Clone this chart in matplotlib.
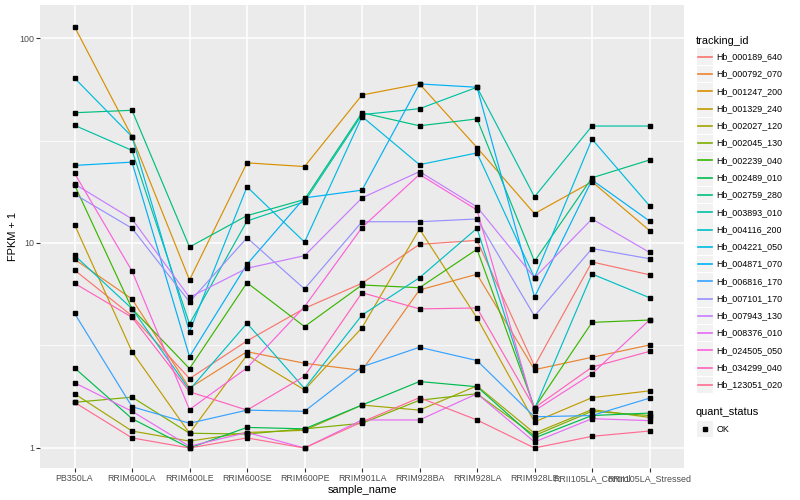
import matplotlib
matplotlib.use('Agg')
import matplotlib.pyplot as plt
from matplotlib.patches import Rectangle
from matplotlib.lines import Line2D

plt.rcParams['font.family'] = ['Liberation Sans', 'DejaVu Sans']

samples = ['PB350LA', 'RRIM600LA', 'RRIM600LE', 'RRIM600SE', 'RRIM600PE',
           'RRIM901LA', 'RRIM928BA', 'RRIM928LA', 'RRIM928LE',
           'RRII105LA_Control', 'RRII105LA_Stressed']

tracking_ids = ['Hb_000189_640', 'Hb_000792_070', 'Hb_001247_200', 'Hb_001329_240',
                'Hb_002027_120', 'Hb_002045_130', 'Hb_002239_040', 'Hb_002489_010',
                'Hb_002759_280', 'Hb_003893_010', 'Hb_004116_200', 'Hb_004221_050',
                'Hb_004871_070', 'Hb_006816_170', 'Hb_007101_170', 'Hb_007943_130',
                'Hb_008376_010', 'Hb_024505_050', 'Hb_034299_040', 'Hb_123051_020']

colors = ['#F8766D', '#EA8331', '#D89000', '#C09B00', '#A3A500', '#7CAE00',
          '#39B600', '#00BB4E', '#00BF7D', '#00C1A3', '#00BFC4', '#00BAE0',
          '#00B0F6', '#35A2FF', '#9590FF', '#C77CFF', '#E76BF3', '#FA62DB',
          '#FF62BC', '#FF6C91']

# FPKM + 1 values per sample (order of `samples`)
hb_000189_640 = [7.38, 4.41, 2.18, 3.33, 4.80, 6.36, 9.85, 10.3, 2.51, 8.08, 7.0]
hb_000792_070 = [8.33, 5.33, 1.96, 2.95, 2.59, 2.39, 5.9, 7.04, 2.41, 2.77, 3.18]
hb_001247_200 = [113.6, 33.0, 6.6, 24.6, 23.6, 52.7, 59.7, 29.2, 13.9, 19.9, 11.5]
hb_001329_240 = [12.3, 2.95, 1.18, 2.84, 1.92, 3.86, 11.7, 4.31, 1.34, 1.76, 1.90]
hb_002027_120 = [1.84, 1.21, 1.08, 1.19, 1.22, 1.62, 1.53, 2.01, 1.18, 1.54, 1.41]
hb_002045_130 = [1.67, 1.77, 1.18, 1.17, 1.24, 1.32, 1.71, 1.84, 1.15, 1.51, 1.44]
hb_002239_040 = [19.2, 4.78, 2.44, 6.40, 3.91, 6.24, 6.05, 9.32, 1.57, 4.10, 4.21]
hb_002489_010 = [2.46, 1.39, 1.0, 1.26, 1.24, 1.62, 2.11, 1.99, 1.12, 1.44, 1.48]
hb_002759_280 = [43.2, 44.4, 9.56, 13.6, 16.3, 43.2, 37.3, 40.3, 8.14, 20.8, 25.4]
hb_003893_010 = [37.5, 28.3, 4.03, 12.8, 15.9, 42.3, 45.2, 57.5, 16.8, 37.2, 37.2]
hb_004116_200 = [8.71, 4.78, 1.92, 4.06, 1.95, 4.45, 6.77, 11.8, 1.55, 7.06, 5.41]
hb_004221_050 = [63.8, 33.0, 3.69, 18.8, 10.1, 41.4, 24.1, 27.5, 6.77, 32.1, 15.2]
hb_004871_070 = [23.9, 24.8, 2.79, 7.87, 16.6, 18.1, 59.7, 57.5, 5.45, 20.3, 12.8]
hb_006816_170 = [4.54, 1.59, 1.32, 1.53, 1.51, 2.49, 3.10, 2.67, 1.42, 1.44, 1.75]
hb_007101_170 = [17.3, 11.8, 5.16, 10.6, 5.97, 12.7, 12.7, 13.1, 4.40, 9.4, 8.38]
hb_007943_130 = [19.4, 13.1, 5.43, 7.53, 8.67, 16.6, 22.3, 15.0, 6.77, 13.1, 9.0]
hb_008376_010 = [2.08, 1.51, 1.02, 1.19, 1.0, 1.37, 1.37, 1.84, 1.07, 1.39, 1.36]
hb_024505_050 = [21.9, 7.3, 1.54, 2.46, 4.89, 11.9, 21.6, 14.5, 1.52, 2.30, 4.21]
hb_034299_040 = [6.36, 4.34, 1.88, 1.53, 2.24, 5.72, 4.77, 4.82, 1.57, 2.48, 2.96]
hb_123051_020 = [1.67, 1.12, 1.0, 1.12, 1.0, 1.34, 1.76, 1.37, 1.0, 1.14, 1.21]

series = [hb_000189_640, hb_000792_070, hb_001247_200, hb_001329_240,
          hb_002027_120, hb_002045_130, hb_002239_040, hb_002489_010,
          hb_002759_280, hb_003893_010, hb_004116_200, hb_004221_050,
          hb_004871_070, hb_006816_170, hb_007101_170, hb_007943_130,
          hb_008376_010, hb_024505_050, hb_034299_040, hb_123051_020]

W, H = 800, 500
fig = plt.figure(figsize=(W / 100, H / 100), dpi=100)
fig.patch.set_facecolor('white')

# panel in pixels: x 40..684, y 5..468
ax = fig.add_axes([40 / W, 1 - 468 / H, 644 / W, 463 / H])
ax.set_facecolor('#EBEBEB')
for s in ax.spines.values():
    s.set_visible(False)

x = list(range(len(samples)))
for vals, col in zip(series, colors):
    ax.plot(x, vals, color=col, lw=0.85, zorder=3, solid_capstyle='butt')
for vals in series:
    ax.plot(x, vals, linestyle='none', marker='s', markersize=2.8,
            color='black', zorder=4)

ax.set_yscale('log')
ax.set_ylim(10 ** -0.0976, 10 ** 2.161)
ax.set_xlim(-0.6, len(samples) - 0.4)
ax.set_yticks([1, 10, 100])
ax.set_yticklabels(['1', '10', '100'])
ax.set_yticks([10 ** 0.5, 10 ** 1.5], minor=True)
ax.yaxis.set_minor_formatter(matplotlib.ticker.NullFormatter())
ax.set_xticks(x)
ax.set_xticklabels(samples)

ax.grid(True, which='major', color='white', lw=1.1, zorder=1)
ax.grid(True, which='minor', axis='y', color='white', lw=0.55, zorder=1)
ax.set_axisbelow(True)

ax.tick_params(axis='both', which='major', length=2.7, width=0.8, color='#333333',
               labelsize=6.4, labelcolor='#4D4D4D', pad=1.5)
ax.tick_params(axis='y', which='minor', length=0)

ax.set_xlabel('sample_name', fontsize=7.9, color='black', labelpad=1.5)
ax.set_ylabel('FPKM + 1', fontsize=7.9, color='black', labelpad=0.5)


# ---- legend drawn in pixel coordinates ----
def fx(px):
    return px / W


def fy(py):
    return 1 - py / H


fig.text(fx(696), fy(40.5), 'tracking_id', fontsize=7.9, ha='left', va='center')
row0, step = 56.7, 17.28
for i, (tid, col) in enumerate(zip(tracking_ids, colors)):
    yc = row0 + i * step
    fig.patches.append(Rectangle((fx(696.5), fy(yc + 8.3)), 16.5 / W, 16.6 / H,
                                 transform=fig.transFigure, facecolor='#F2F2F2',
                                 edgecolor='none'))
    fig.lines.append(Line2D([fx(698), fx(711.5)], [fy(yc), fy(yc)],
                            transform=fig.transFigure, color=col, lw=1.2))
    fig.text(fx(716.5), fy(yc), tid, fontsize=6.4, ha='left', va='center',
             color='black')

fig.text(fx(696), fy(412), 'quant_status', fontsize=7.9, ha='left', va='center')
yq = 429
fig.patches.append(Rectangle((fx(696.5), fy(yq + 8.3)), 16.5 / W, 16.6 / H,
                             transform=fig.transFigure, facecolor='#F2F2F2',
                             edgecolor='none'))
fig.lines.append(Line2D([fx(704.7)], [fy(yq)], transform=fig.transFigure,
                        linestyle='none', marker='s', markersize=2.8, color='black'))
fig.text(fx(716.5), fy(yq), 'OK', fontsize=6.4, ha='left', va='center', color='black')

fig.savefig('out.png', dpi=100)
